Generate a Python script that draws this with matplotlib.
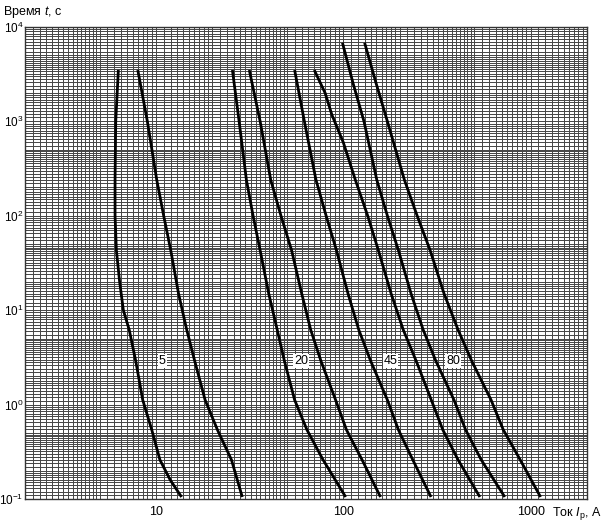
import numpy as np
import matplotlib
matplotlib.use('Agg')
import matplotlib.pyplot as plt
from matplotlib.ticker import FixedLocator, NullFormatter, FixedFormatter

plt.rcParams['font.family'] = ['Liberation Sans', 'DejaVu Sans']
plt.rcParams['mathtext.fontset'] = 'custom'
plt.rcParams['mathtext.rm'] = 'Liberation Sans'
plt.rcParams['mathtext.it'] = 'Liberation Sans:italic'

# curves: current (A) vs time (s)
c1_i = [6.3, 6.1, 6.05, 6.05, 6.15, 6.4, 6.7, 7.2, 7.8, 8.5, 9.5, 10.5, 11.9, 13.7]
c1_t = [3500, 1000, 240, 100, 43, 20, 10, 6.2, 2.9, 1.12, 0.54, 0.26, 0.16, 0.105]
c2_i = [8.0, 9.0, 10.1, 11.0, 12.0, 13.2, 14.6, 16.1, 18.3, 21.3, 25.3, 28.9]
c2_t = [3500, 1000, 240, 100, 43, 15, 6.2, 2.9, 1.12, 0.54, 0.26, 0.105]
c3_i = [25.6, 27.8, 30.4, 33, 36, 40, 44.4, 48.5, 55, 64, 78, 103]
c3_t = [3500, 1000, 240, 100, 43, 15, 6.2, 2.9, 1.12, 0.54, 0.26, 0.105]
c4_i = [31.5, 36, 41, 46.5, 53, 60, 67, 76, 91, 104, 126, 158]
c4_t = [3500, 1000, 240, 100, 43, 15, 6.2, 2.9, 1.12, 0.54, 0.26, 0.105]
c5_i = [55, 62, 71.5, 81, 92, 106, 121, 140, 172, 197, 235, 294]
c5_t = [3500, 1000, 240, 100, 43, 15, 6.2, 2.9, 1.12, 0.54, 0.26, 0.105]
c6_i = [70, 80, 87, 100, 116, 135, 154, 180, 209, 245, 295, 340, 410, 536]
c6_t = [3500, 2000, 1170, 600, 240, 100, 43, 15, 6.2, 2.9, 1.12, 0.54, 0.26, 0.105]
c7_i = [99, 113, 129, 151, 172, 197, 230, 267, 312, 390, 450, 545, 728]
c7_t = [6800, 2500, 1000, 240, 100, 43, 15, 6.2, 2.9, 1.12, 0.54, 0.26, 0.105]
c8_i = [130, 150, 172, 212, 248, 291, 345, 410, 485, 615, 715, 880, 1130]
c8_t = [6800, 2500, 1000, 240, 100, 43, 15, 6.2, 2.9, 1.12, 0.54, 0.26, 0.105]

curves = [(c1_i, c1_t), (c2_i, c2_t), (c3_i, c3_t), (c4_i, c4_t),
          (c5_i, c5_t), (c6_i, c6_t), (c7_i, c7_t), (c8_i, c8_t)]

labels = ['5', '20', '45', '80']
label_i = [10.8, 59.5, 179, 385]
label_t = [2.9, 2.9, 2.9, 2.9]

# grid subdivisions inside one decade
mant = list(np.arange(1.0, 2.0, 0.1)) + list(np.arange(2.0, 5.0, 0.2)) + list(np.arange(5.0, 10.0, 0.5))

def grid_values(lo, hi):
    vals = []
    for e in range(lo, hi):
        for m in mant:
            vals.append(m * 10.0 ** e)
    vals.append(10.0 ** hi)
    return vals

fig = plt.figure(figsize=(6.05, 5.23), dpi=100)
ax = fig.add_axes([25 / 605, 1 - 499 / 523, 562 / 605, 472 / 523])

for ci, ct in curves:
    ax.plot(ci, ct, color='black', linewidth=2.0, solid_capstyle='butt',
            solid_joinstyle='round', zorder=3)

for lab, li, lt in zip(labels, label_i, label_t):
    ax.text(li, lt, lab, fontsize=9, ha='center', va='center', zorder=4,
            bbox=dict(facecolor='white', edgecolor='none', pad=0.6))

ax.set_xscale('log')
ax.set_yscale('log')
ax.set_xlim(2, 2000)
ax.set_ylim(0.1, 10000)

xg = [v for v in grid_values(0, 4) if 2 <= v <= 2000]
yg = grid_values(-1, 4)
ax.xaxis.set_minor_locator(FixedLocator(xg))
ax.yaxis.set_minor_locator(FixedLocator(yg))
ax.xaxis.set_minor_formatter(NullFormatter())
ax.yaxis.set_minor_formatter(NullFormatter())
ax.xaxis.set_major_locator(FixedLocator([10, 100, 1000]))
ax.xaxis.set_major_formatter(FixedFormatter(['10', '100', '1000']))
ax.yaxis.set_major_locator(FixedLocator([0.1, 1, 10, 100, 1000, 10000]))
ax.yaxis.set_major_formatter(FixedFormatter(['$10^{-1}$', '$10^{0}$', '$10^{1}$',
                                             '$10^{2}$', '$10^{3}$', '$10^{4}$']))
ax.grid(which='both', color='#454545', linewidth=0.7)
ax.tick_params(which='both', length=0, pad=2)
ax.tick_params(axis='x', labelsize=9, pad=5)
ax.tick_params(axis='y', labelsize=8.5, pad=1)
for s in ax.spines.values():
    s.set_color('#333333')
    s.set_linewidth(1.0)

fig.text(3 / 605, 1 - 12 / 523, 'Время $t$, с', fontsize=9, ha='left', va='center')
fig.text(601 / 605, 1 - 513 / 523, 'Ток $I_{\\mathrm{p}}$, А', fontsize=9, ha='right', va='center')

fig.savefig('out.png', dpi=100)
